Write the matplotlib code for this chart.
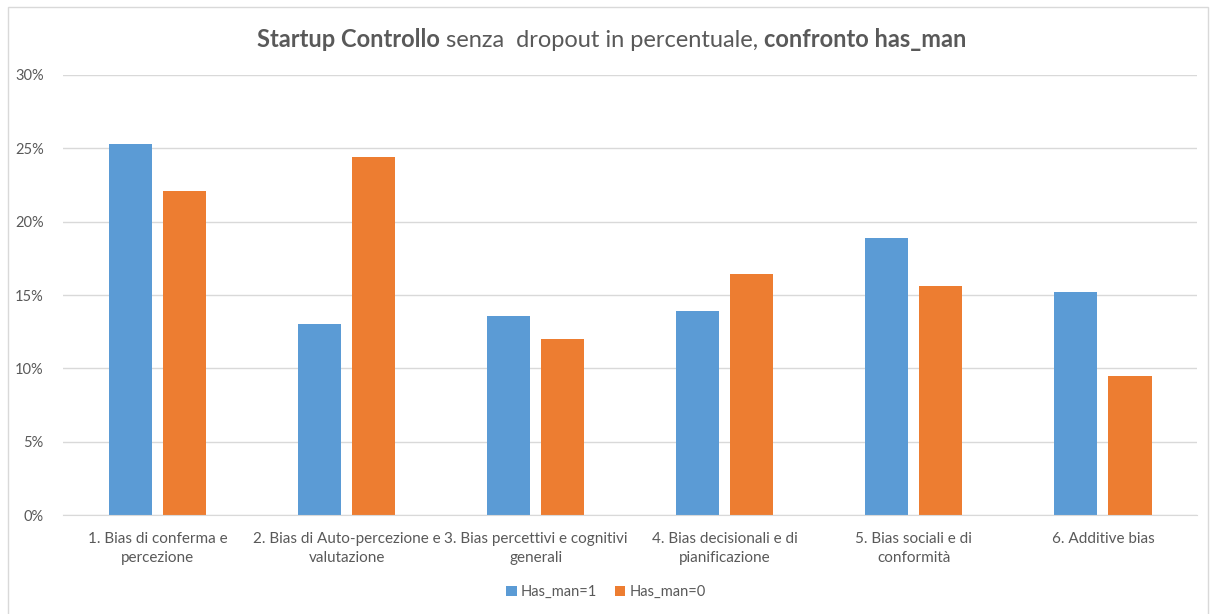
import matplotlib
matplotlib.use('Agg')
import matplotlib.pyplot as plt
import numpy as np
from matplotlib.offsetbox import TextArea, HPacker, AnnotationBbox
from matplotlib.ticker import PercentFormatter
from matplotlib.patches import Rectangle

plt.rcParams['font.family'] = ['Lato', 'DejaVu Sans']

# categories and values (percent)
categories = ["1. Bias di conferma e\npercezione",
              "2. Bias di Auto-percezione e\nvalutazione",
              "3. Bias percettivi e cognitivi\ngenerali",
              "4. Bias decisionali e di\npianificazione",
              "5. Bias sociali e di\nconformità",
              "6. Additive bias"]
has_man_1 = [25.3, 13.0, 13.6, 13.9, 18.9, 15.2]
has_man_0 = [22.1, 24.4, 12.0, 16.4, 15.6, 9.5]
series_names = ["Has_man=1", "Has_man=0"]

blue = '#5b9bd5'
orange = '#ed7d31'
grey = '#595959'

fig = plt.figure(figsize=(12.12, 6.14), dpi=100)
ax = fig.add_axes([0.052, 0.161, 0.936, 0.717])

x = np.arange(len(categories))
w = 0.228
ax.bar(x - 0.143, has_man_1, w, color=blue, label=series_names[0])
ax.bar(x + 0.143, has_man_0, w, color=orange, label=series_names[1])

ax.set_xlim(-0.5, len(categories) - 0.5)
ax.set_ylim(0, 30)
ax.set_yticks(np.arange(0, 31, 5))
ax.yaxis.set_major_formatter(PercentFormatter(decimals=0))
ax.grid(axis='y', color='#d9d9d9', linewidth=1)
ax.set_axisbelow(True)
for s in ['top', 'right', 'left']:
    ax.spines[s].set_visible(False)
ax.spines['bottom'].set_color('#d9d9d9')
ax.set_xticks(x)
ax.set_xticklabels(categories, fontsize=11, color=grey, linespacing=1.45)
ax.tick_params(axis='y', length=0, labelsize=10.5, labelcolor=grey, pad=14)
ax.tick_params(axis='x', length=0, pad=12)

# title with mixed bold
parts = [("Startup Controllo", 'bold'), (" senza  dropout in percentuale, ", 'normal'),
         ("confronto has_man", 'bold')]
areas = [TextArea(t, textprops=dict(fontsize=17, fontweight=fw, color=grey)) for t, fw in parts]
box = HPacker(children=areas, align='baseline', pad=0, sep=0)
ab = AnnotationBbox(box, (0.505, 0.935), xycoords='figure fraction', frameon=False)
fig.add_artist(ab)

ax.legend(loc='center', bbox_to_anchor=(0.5, 0.036), bbox_transform=fig.transFigure,
          ncol=2, frameon=False, fontsize=10.5, labelcolor=grey, handlelength=0.7,
          handleheight=0.7, columnspacing=1.2, handletextpad=0.3)

fig.add_artist(Rectangle((0.007, -0.01), 0.99, 0.998, transform=fig.transFigure,
                         fill=False, edgecolor='#d9d9d9', linewidth=1))

fig.savefig('out.png', dpi=100)
